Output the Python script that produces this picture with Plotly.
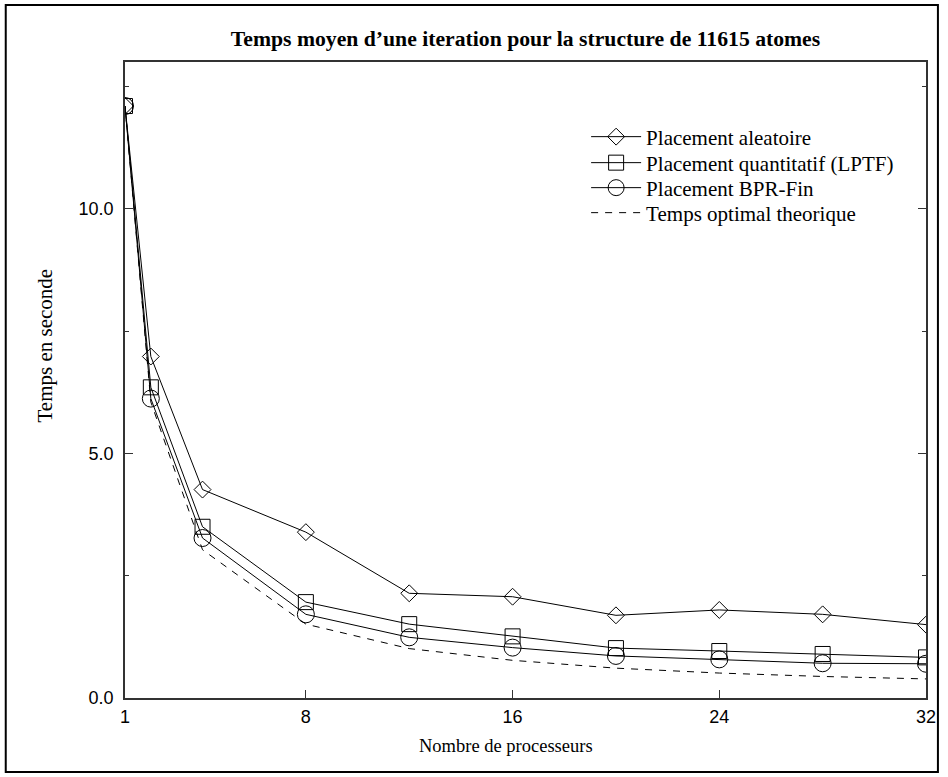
import plotly.graph_objects as go

procs = [1, 2, 4, 8, 12, 16, 20, 24, 28, 32]
aleatoire = [12.1, 6.98, 4.26, 3.39, 2.14, 2.07, 1.69, 1.80, 1.71, 1.50]
quantitatif = [12.1, 6.35, 3.50, 1.96, 1.51, 1.26, 1.02, 0.96, 0.90, 0.83]
bpr_fin = [12.1, 6.12, 3.27, 1.71, 1.24, 1.03, 0.86, 0.79, 0.71, 0.70]
optimal = [12.1, 6.05, 3.03, 1.51, 1.01, 0.77, 0.61, 0.51, 0.44, 0.39]

series_names = ["Placement aleatoire", "Placement quantitatif (LPTF)",
                "Placement BPR-Fin", "Temps optimal theorique"]
x_ticks = [1, 8, 16, 24, 32]
y_ticks = [0, 5, 10]
y_tick_text = ["0.0", "5.0", "10.0"]

title = "Temps moyen d\u2019une iteration pour la structure de 11615 atomes"
x_title = "Nombre de processeurs"
y_title = "Temps en seconde"

W, H = 948, 777
L, R, T, B = 125, 931, 62, 698

serif = "Liberation Serif, Times New Roman, serif"
sans = "Liberation Sans, Arial, sans-serif"

pw, ph = R - L, B - T
def px(x):
    return (x - L) / pw
def py(y):
    return (B - y) / ph

fig = go.Figure()
mk = dict(color="black", line=dict(color="black", width=1))
fig.add_trace(go.Scatter(x=procs, y=aleatoire, name=series_names[0], mode="lines+markers",
                         line=dict(color="black", width=1), legend="legend",
                         marker=dict(symbol="diamond-open", size=13, **mk)))
fig.add_trace(go.Scatter(x=procs, y=quantitatif, name=series_names[1], mode="lines+markers",
                         line=dict(color="black", width=1), legend="legend2",
                         marker=dict(symbol="square-open", size=15, **mk)))
fig.add_trace(go.Scatter(x=procs, y=bpr_fin, name=series_names[2], mode="lines+markers",
                         line=dict(color="black", width=1), legend="legend3",
                         marker=dict(symbol="circle-open", size=17, **mk)))
fig.add_trace(go.Scatter(x=procs, y=optimal, name=series_names[3], mode="lines",
                         line=dict(color="black", width=1, dash="7px,7px"), legend="legend4"))

def leg(row_y):
    return dict(x=px(589), y=py(row_y), xanchor="left", yanchor="middle",
                font=dict(family=serif, size=21, color="black"),
                bgcolor="rgba(0,0,0,0)", borderwidth=0, itemwidth=50)

fig.update_layout(
    width=W, height=H,
    margin=dict(l=L, r=W - R, t=T, b=H - B, pad=0),
    paper_bgcolor="white", plot_bgcolor="white",
    showlegend=True,
    title=dict(text="<b>" + title + "</b>", x=px(528), xref="paper", xanchor="center",
               y=1 - 38 / H, yanchor="middle",
               font=dict(family=serif, size=21.7, color="black")),
    legend=leg(137), legend2=leg(163), legend3=leg(188), legend4=leg(213),
    xaxis=dict(range=[1, 32], tickvals=x_ticks, ticks="inside", ticklen=8,
               tickcolor="#333", showline=True, linecolor="#333", linewidth=1.5,
               mirror=True, showgrid=False, zeroline=False,
               tickfont=dict(family=sans, size=18, color="black"),
               ticklabelstandoff=2),
    yaxis=dict(range=[0, 13], tickvals=y_ticks, ticktext=y_tick_text, ticks="inside",
               ticklen=8, tickcolor="#333", showline=True, linecolor="#333",
               linewidth=1.5, mirror="ticks", showgrid=False, zeroline=False,
               tickfont=dict(family=sans, size=18, color="black"),
               ticklabelstandoff=6,
               minor=dict(tickvals=[2.5, 7.5, 12.5], ticks="inside", ticklen=4,
                          tickcolor="#333", showgrid=False)),
    annotations=[
        dict(text=x_title, xref="paper", yref="paper", x=px(508), y=py(746),
             xanchor="center", yanchor="middle", showarrow=False,
             font=dict(family=serif, size=18.5, color="black")),
        dict(text=y_title, xref="paper", yref="paper", x=px(44), y=py(346),
             xanchor="center", yanchor="middle", showarrow=False, textangle=-90,
             font=dict(family=serif, size=21, color="black")),
    ],
    shapes=[dict(type="rect", xref="paper", yref="paper",
                 x0=px(5), x1=px(943), y0=py(772), y1=py(5),
                 line=dict(color="black", width=2), fillcolor="rgba(0,0,0,0)",
                 layer="below")],
)

fig.write_html("out.html")
